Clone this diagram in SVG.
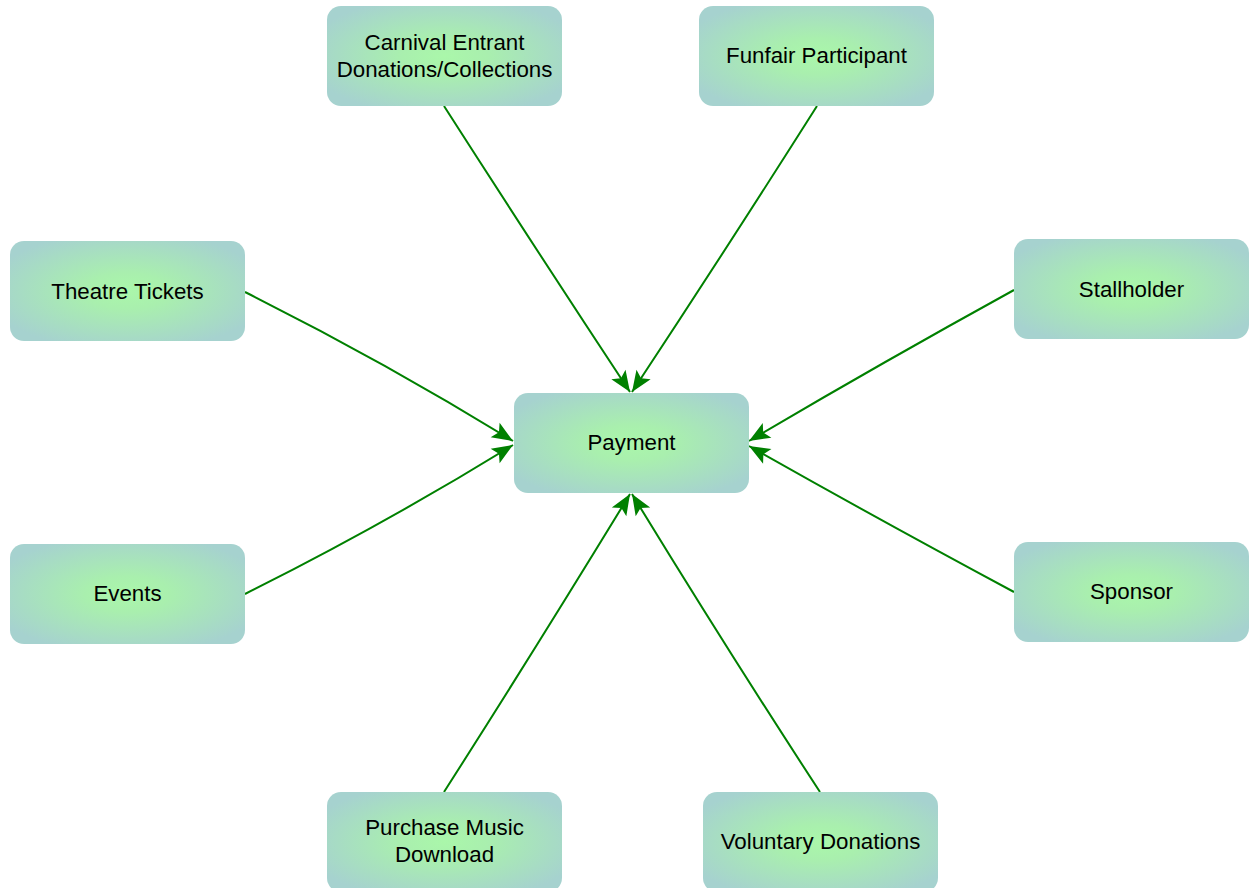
<svg xmlns="http://www.w3.org/2000/svg" width="1250" height="888" viewBox="0 0 1250 888">
<defs>
<radialGradient id="g" cx="50%" cy="50%" r="60%">
<stop offset="0" stop-color="#aaf7aa"/>
<stop offset="0.3" stop-color="#a9efae"/>
<stop offset="1" stop-color="#a6d2cf"/>
</radialGradient>
<marker id="ah" markerUnits="userSpaceOnUse" markerWidth="24" markerHeight="20" viewBox="-1 -10 23 20" refX="21" refY="0" orient="auto">
<path d="M0,-8.5 L21,0 L0,8.5 L4.5,0 Z" fill="#008000"/>
</marker>
<style>
.n rect{fill:url(#g);}
.n text{font-family:"Liberation Sans",Arial,sans-serif;font-size:22.3px;fill:#000;text-anchor:middle;}
.c path{fill:none;stroke:#008000;stroke-width:2;marker-end:url(#ah);}
</style>
</defs>
<rect width="1250" height="888" fill="#fff"/>
<g class="c" id="connectors">
<path d="M444,106 Q535,248 630,392"/>
<path d="M817,106 Q727,248 632,392"/>
<path d="M245,292 Q385,362 513,441"/>
<path d="M1014,290 Q876,366 749,441"/>
<path d="M245,594 Q385,524 513,445"/>
<path d="M1014,592 Q876,518 749,446"/>
<path d="M444,792 Q536,648 630,494"/>
<path d="M820,792 Q726,648 632,494"/>
</g>
<g class="n" id="payment"><rect x="514" y="393" width="235" height="100" rx="14"/><text x="631.5" y="450">Payment</text></g>
<g class="n" id="carnival"><rect x="327" y="6" width="235" height="100" rx="14"/><text x="444.5" y="50">Carnival Entrant</text><text x="444.5" y="77">Donations/Collections</text></g>
<g class="n" id="funfair"><rect x="699" y="6" width="235" height="100" rx="14"/><text x="816.5" y="63">Funfair Participant</text></g>
<g class="n" id="theatre"><rect x="10" y="241" width="235" height="100" rx="14"/><text x="127.5" y="299">Theatre Tickets</text></g>
<g class="n" id="stallholder"><rect x="1014" y="239" width="235" height="100" rx="14"/><text x="1131.5" y="297">Stallholder</text></g>
<g class="n" id="events"><rect x="10" y="544" width="235" height="100" rx="14"/><text x="127.5" y="601">Events</text></g>
<g class="n" id="sponsor"><rect x="1014" y="542" width="235" height="100" rx="14"/><text x="1131.5" y="599">Sponsor</text></g>
<g class="n" id="purchase"><rect x="327" y="792" width="235" height="100" rx="14"/><text x="444.5" y="835">Purchase Music</text><text x="444.5" y="862">Download</text></g>
<g class="n" id="voluntary"><rect x="703" y="792" width="235" height="100" rx="14"/><text x="820.5" y="849">Voluntary Donations</text></g>
</svg>
